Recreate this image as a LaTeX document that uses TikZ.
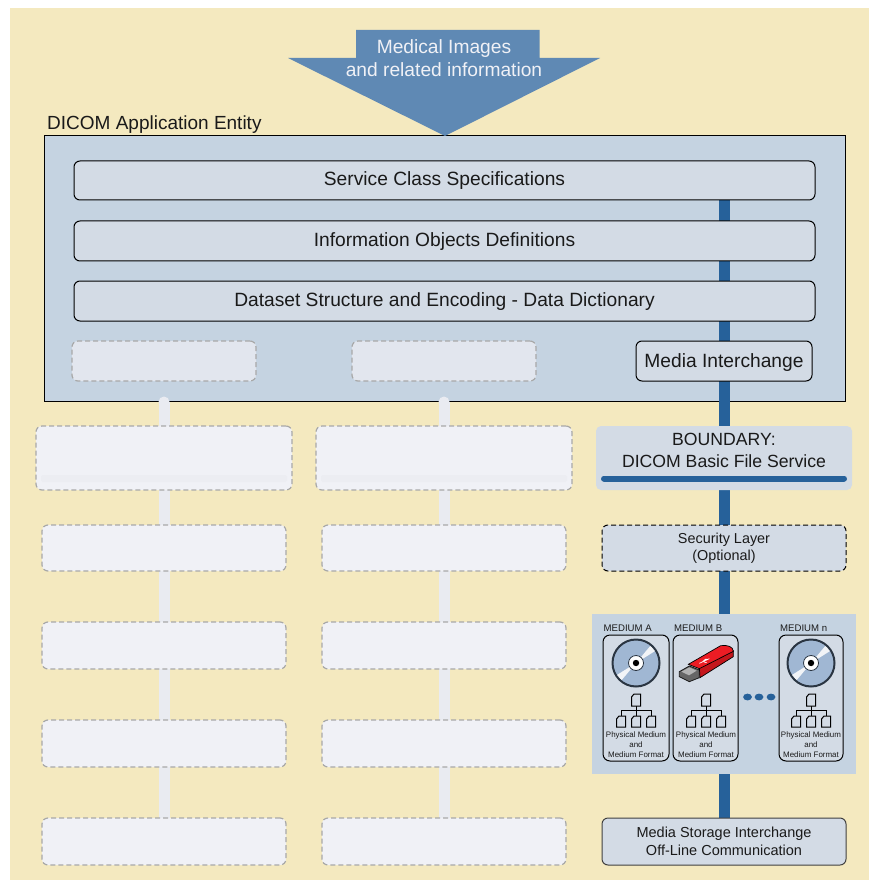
\documentclass[tikz,border=0pt]{standalone}
\usepackage{fontspec}
\setmainfont{Liberation Sans}
\pgfdeclarelayer{backlayer}
\pgfdeclarelayer{connlayer}
\pgfsetlayers{backlayer,connlayer,main}
\definecolor{beige}{HTML}{F4E9BF}
\definecolor{panelblue}{HTML}{C5D3E1}
\definecolor{boxblue}{HTML}{D3DBE5}
\definecolor{arrowblue}{HTML}{5F89B4}
\definecolor{linkblue}{HTML}{26619A}
\definecolor{ghostfill}{HTML}{F0F1F6}
\definecolor{ghostin}{HTML}{E2E6EE}
\definecolor{ghostline}{HTML}{A8A8A8}
\definecolor{ghostlink}{HTML}{E9EBF1}
\definecolor{ghostband}{HTML}{ECEDF2}
\definecolor{inkdark}{HTML}{1A1A1A}
\definecolor{cdblue}{HTML}{A0B7D3}
\definecolor{cdedge}{HTML}{2A3542}
\definecolor{usbred}{HTML}{ED1C24}
\definecolor{usbside}{HTML}{C4161C}
\newcommand{\fs}[1]{\fontsize{#1pt}{#1pt}\selectfont}
\tikzset{
 x=1pt,y=-1pt,
 boxbase/.style={inner sep=0pt,outer sep=0pt,anchor=north west,align=center,text=inkdark,rounded corners=6pt},
 solidbox/.style={boxbase,draw=black,line width=1pt,fill=boxblue},
 ghostbox/.style={boxbase,draw=ghostline,line width=1.2pt,fill=ghostfill,dash pattern=on 5pt off 3pt},
 ghostinner/.style={ghostbox,fill=ghostin},
 size/.style n args={2}{minimum width=#1pt,minimum height=#2pt},
 basel/.style={text height=15pt,text depth=#1pt},
 link/.style={draw=linkblue,line width=11pt},
 ghostconn/.style={draw=ghostlink,line width=11pt},
 mediumbox/.style={solidbox,rounded corners=7pt},
 medlabel/.style={inner sep=0pt,text=inkdark,font=\fs{9.6}},
 medtext/.style={inner sep=0pt,align=center,text=inkdark,font=\fs{7.95}},
 docicon/.style={draw=black,line width=1pt,fill=boxblue},
}
\newcommand{\docshape}[4]{\draw[docicon] (#1+2.5,#2) -- (#3,#2) -- (#3,#4) -- (#1,#4) -- (#1,#2+3) -- cycle;}
\newcommand{\treeicon}[1]{%
 \begin{scope}[shift={(#1,0)}]
  \draw[black,line width=1pt] (0,706) -- (0,716) (-15,716) -- (-15,710) -- (15,710) -- (15,716);
  \docshape{-4.5}{694}{4.5}{706}
  \docshape{-19.5}{716}{-10.5}{727}
  \docshape{-4.5}{716}{4.5}{727}
  \docshape{10.5}{716}{19.5}{727}
 \end{scope}}
\newcommand{\cdicon}[1]{%
 \begin{scope}[shift={(#1,663)}]
  \fill[cdblue] (0,0) circle[radius=23.5];
  \fill[boxblue!30!white] (0,0) -- (15.5,-18.5) arc[start angle=-50,end angle=-32,radius=24] -- cycle;
  \fill[boxblue!30!white] (0,0) -- (-15.5,18.5) arc[start angle=130,end angle=148,radius=24] -- cycle;
  \draw[cdedge,line width=2pt] (0,0) circle[radius=23.5];
  \fill[white] (0,0) circle[radius=7.5];
  \draw[cdedge,line width=.8pt] (0,0) circle[radius=7.5];
  \fill[black] (0,0) circle[radius=3.2];
 \end{scope}}
\begin{document}
\begin{tikzpicture}
\useasboundingbox (0,0) rectangle (869,882);
\begin{pgfonlayer}{backlayer}
 \fill[beige] (10,8) rectangle (869,880);
 \node[boxbase,rounded corners=0pt,draw=black,line width=1pt,fill=panelblue,size={801}{265}] (app) at (44,136) {};
\end{pgfonlayer}

\node[anchor=west,inner sep=0pt,text=inkdark,font=\fs{19}] (applabel) at (47,124.5) {DICOM Application Entity};

\fill[arrowblue] (356,30) -- (539.5,30) -- (539.5,58) -- (600,58) -- (445,136) -- (288,58) -- (356,58) -- cycle;
\node[align=center,inner sep=0pt,font=\fs{19.2},text=ghostfill] (arrowtext) at (444,58.5) {Medical Images\\[3.8pt]and related information};

\node[solidbox,font=\fs{19.2},basel=4,size={741}{39}] (svc) at (74,161) {Service Class Specifications};
\node[solidbox,font=\fs{19.2},basel=3.4,size={741}{40}] (iod) at (74,221) {Information Objects Definitions};
\node[solidbox,font=\fs{19.2},basel=3.6,size={741}{40}] (data) at (74,281) {Dataset Structure and Encoding - Data Dictionary};
\node[ghostinner,size={184}{40}] (ga) at (72,341) {};
\node[ghostinner,size={184}{40}] (gb) at (352,341) {};
\node[solidbox,font=\fs{19.2},basel=3,size={176}{40}] (media) at (636,341) {Media Interchange};

\node[ghostbox,size={256}{64}] (a1) at (36,426) {};
\node[ghostbox,size={256}{64}] (b1) at (316,426) {};
\fill[ghostband,rounded corners=2pt] (41,475) rectangle (287,482);
\fill[ghostband,rounded corners=2pt] (321,475) rectangle (567,482);
\node[ghostbox,size={244}{46}] (a2) at (42,525) {};
\node[ghostbox,size={244}{46}] (b2) at (322,525) {};
\node[ghostbox,size={244}{47}] (a3) at (42,622) {};
\node[ghostbox,size={244}{47}] (b3) at (322,622) {};
\node[ghostbox,size={244}{47}] (a4) at (42,720) {};
\node[ghostbox,size={244}{47}] (b4) at (322,720) {};
\node[ghostbox,size={244}{47}] (a5) at (42,818) {};
\node[ghostbox,size={244}{47}] (b5) at (322,818) {};

\node[boxbase,fill=boxblue,rounded corners=5pt,size={256}{64}] (boundary) at (596,426) {};
\node[align=center,inner sep=0pt,text=inkdark,font=\fs{17.65}] (boundarytext) at (724,450.5) {BOUNDARY:\\[3.65pt]DICOM Basic File Service};
\coordinate (bl) at (604,478.5);
\coordinate (br) at (844,478.5);
\draw[linkblue,line width=6pt,line cap=round] (bl) -- (br);

\node[solidbox,dash pattern=on 5pt off 3pt,font=\fs{14.4},size={244}{46}] (sec) at (602,525) {Security Layer\\[2.6pt](Optional)};
\node[boxbase,rounded corners=0pt,fill=panelblue,size={264}{160}] (panel) at (592,614) {};
\node[solidbox,font=\fs{14.5},draw=black!75,size={244}{47}] (store) at (602,818) {Media Storage Interchange\\[3.5pt]Off-Line Communication};

\coordinate (astart) at (164,402);
\coordinate (bstart) at (444,402);
\begin{pgfonlayer}{connlayer}
 \draw[link] (svc.south -| media.center) -- (store.north -| media.center);
 \draw[ghostconn] (astart) -- (a5.north);
 \draw[ghostconn] (bstart) -- (b5.north);
 \fill[ghostlink] (astart) circle[radius=5.5];
 \fill[ghostlink] (bstart) circle[radius=5.5];
\end{pgfonlayer}

\node[mediumbox,size={66}{126}] (ma) at (603,635) {};
\node[mediumbox,size={65}{126}] (mb) at (673,635) {};
\node[mediumbox,size={64}{126}] (mn) at (779,635) {};
\node[medlabel,anchor=west] (la) at (603.5,628.5) {MEDIUM A};
\node[medlabel,anchor=west] (lb) at (674,628.5) {MEDIUM B};
\node[medlabel,anchor=west] (ln) at (780,628.5) {MEDIUM n};

\cdicon{636}
\cdicon{811}
\treeicon{636}
\treeicon{706}
\treeicon{811}
\node[medtext] (ta) at (636,745) {Physical Medium\\[2pt]and\\[2pt]Medium Format};
\node[medtext] (tb) at (706,745) {Physical Medium\\[2pt]and\\[2pt]Medium Format};
\node[medtext] (tn) at (811,745) {Physical Medium\\[2pt]and\\[2pt]Medium Format};

\fill[linkblue] (747.5,697) ellipse[x radius=4.4,y radius=3.4];
\fill[linkblue] (759,697) ellipse[x radius=4.4,y radius=3.4];
\fill[linkblue] (771,697) ellipse[x radius=4.4,y radius=3.4];

\begin{scope}[shift={(590,610)},scale=1/3]
 \filldraw[fill=black!60,draw=black!90,line width=.8pt] (268,185) -- (298,168) -- (328,180) -- (328,203) -- (298,215) -- (268,200) -- cycle;
 \fill[black!30] (274,185) -- (298,172) -- (320,182) -- (297,196) -- cycle;
 \filldraw[fill=usbside,draw=black,line width=.7pt] (328,172) -- (430,122) -- (430,140) -- (330,203) -- cycle;
 \filldraw[fill=usbred,draw=black,line width=.7pt] (295,163) -- (392,107) .. controls (412,104) and (430,110) .. (430,124) -- (328,176) -- cycle;
 \draw[white,line width=.7pt] (328,160) -- (358,146) (338,155) -- (346,148) -- (352,148) (342,156) -- (350,158);
\end{scope}
\end{tikzpicture}
\end{document}
